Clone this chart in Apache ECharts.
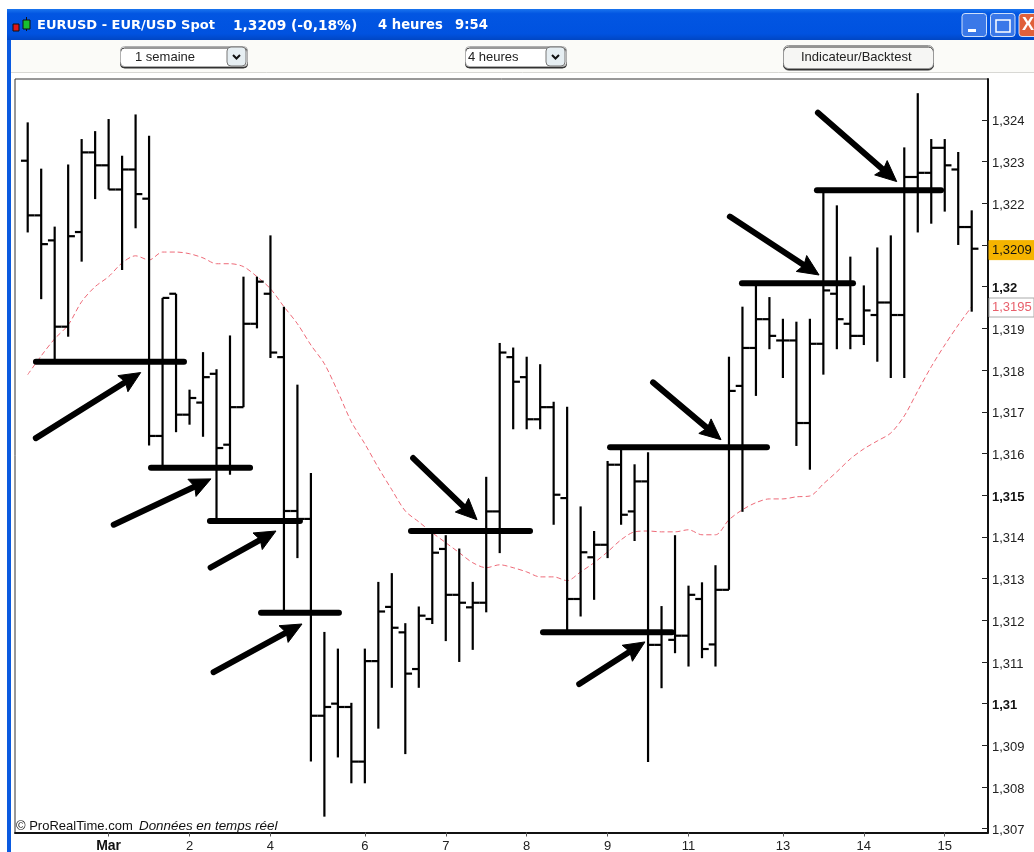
<!DOCTYPE html>
<html><head><meta charset="utf-8">
<style>html,body{margin:0;padding:0;background:#fff}#c{width:1034px;height:852px}</style>
<script src="https://cdn.jsdelivr.net/npm/echarts@6/dist/echarts.min.js"></script>
</head><body><div id="c"></div>
<script>
const opens=[1.32302,1.32171,1.32111,1.31904,1.32131,1.32322,1.32291,1.32233,1.32281,1.32211,1.31642,1.31983,1.31693,1.31722,1.31791,1.31621,1.31711,1.31911,1.31983,1.31831,1.31462,1.31443,1.30971,1.31000,1.30992,1.30861,1.31102,1.31232,1.31171,1.31083,1.31203,1.31371,1.31261,1.31231,1.31242,1.31461,1.31831,1.31783,1.31682,1.31711,1.31493,1.31251,1.31351,1.31381,1.31573,1.31461,1.31533,1.31141,1.31153,1.31163,1.31251,1.31142,1.31273,1.31762,1.31853,1.31922,1.31871,1.31871,1.31673,1.31863,1.31983,1.31911,1.31882,1.31932,1.31962,1.31932,1.32263,1.32273,1.32333,1.32281,1.32143];
const highs=[1.32394,1.32283,1.32144,1.32293,1.32354,1.32373,1.32402,1.32314,1.32413,1.32362,1.31973,1.31983,1.31753,1.31843,1.31802,1.31883,1.32024,1.32024,1.32123,1.31952,1.31765,1.31553,1.31172,1.31132,1.31002,1.31132,1.31292,1.31313,1.31193,1.31233,1.31413,1.31404,1.31372,1.31292,1.31544,1.31865,1.31854,1.31832,1.31814,1.31724,1.31712,1.31473,1.31414,1.31582,1.31613,1.31574,1.31603,1.31234,1.31404,1.31283,1.31291,1.31332,1.31832,1.31952,1.32007,1.31975,1.31923,1.31916,1.31923,1.32228,1.32195,1.32072,1.32003,1.32094,1.32123,1.32334,1.32464,1.32354,1.32354,1.32323,1.32183];
const lows=[1.32130,1.31970,1.31820,1.31880,1.32060,1.32210,1.32233,1.32040,1.32140,1.31619,1.31566,1.31651,1.31669,1.31640,1.31438,1.31549,1.31711,1.31900,1.31829,1.31218,1.31349,1.30861,1.30729,1.30871,1.30809,1.30809,1.30940,1.31038,1.30879,1.31038,1.31191,1.31150,1.31100,1.31129,1.31219,1.31361,1.31658,1.31658,1.31658,1.31429,1.31173,1.31209,1.31249,1.31349,1.31429,1.31390,1.30860,1.31037,1.31121,1.31089,1.31109,1.31089,1.31273,1.31460,1.31738,1.31850,1.31781,1.31618,1.31561,1.31789,1.31850,1.31850,1.31860,1.31820,1.31781,1.31781,1.32130,1.32151,1.32180,1.32100,1.31940];
const closes=[1.32171,1.32102,1.31904,1.32121,1.32322,1.32291,1.32233,1.32281,1.32222,1.31642,1.31973,1.31693,1.31733,1.31783,1.31613,1.31711,1.31911,1.32012,1.31842,1.31462,1.31443,1.30971,1.30992,1.30992,1.30861,1.31102,1.31221,1.31182,1.31072,1.31211,1.31362,1.31261,1.31242,1.31242,1.31461,1.31842,1.31772,1.31682,1.31711,1.31501,1.31251,1.31363,1.31381,1.31573,1.31453,1.31533,1.31141,1.31170,1.31163,1.31261,1.31131,1.31273,1.31750,1.31853,1.31922,1.31882,1.31871,1.31673,1.31863,1.31991,1.31922,1.31882,1.31943,1.31962,1.31932,1.32263,1.32273,1.32333,1.32291,1.32143,1.32091];
const movingAverage=[1.31789,1.31834,1.31875,1.31908,1.31964,1.32000,1.32024,1.32057,1.32074,1.32064,1.32083,1.32083,1.32079,1.32069,1.32055,1.32055,1.32048,1.32024,1.31995,1.31952,1.31911,1.31860,1.31815,1.31748,1.31676,1.31623,1.31566,1.31513,1.31462,1.31436,1.31410,1.31386,1.31362,1.31338,1.31326,1.31333,1.31326,1.31316,1.31304,1.31304,1.31295,1.31316,1.31338,1.31364,1.31393,1.31412,1.31414,1.31412,1.31412,1.31417,1.31405,1.31405,1.31441,1.31465,1.31482,1.31491,1.31491,1.31496,1.31498,1.31527,1.31556,1.31587,1.31611,1.31630,1.31649,1.31690,1.31750,1.31808,1.31860,1.31908,1.31952];
// horizontal levels: [from bar, to bar, price]
const levels=[[0.39,11.81,1.31820],[8.92,16.71,1.31566],[13.29,20.41,1.31438],[17.08,23.3,1.31218],[28.2,37.47,1.31414],[37.99,48,1.31171],[42.96,55.04,1.31615],[52.74,61.42,1.32008],[58.3,67.95,1.32231]];
// arrows: [tail bar, tail price, tip bar, tip price]
const arrows=[[0.415,1.31633,8.379,1.31794],[6.177,1.31426,13.59,1.31539],[13.37,1.31323,18.41,1.31414],[13.59,1.31072,20.34,1.31191],[28.42,1.31594,33.32,1.31441],[40.71,1.31043,45.77,1.31148],[46.2,1.31775,51.41,1.31633],[51.88,1.32172,58.68,1.32028],[58.43,1.32422,64.44,1.32252]];
const dayTicks=[6,12,18,25,31,37,43,49,56,62,68];
const dayLabels=['Mar','2','4','6','7','8','9','11','13','14','15'];
const priceTicks=[1.307,1.308,1.309,1.31,1.311,1.312,1.313,1.314,1.315,1.316,1.317,1.318,1.319,1.32,1.321,1.322,1.323,1.324];
const priceLabelled=priceTicks.filter(v=>v!==1.321);
const boldPrices=[1.31,1.315,1.32];
const lastPrice=1.3209, maValue=1.3195;
const FONT='"Liberation Sans",Arial,sans-serif';
const TITLE='"DejaVu Sans",sans-serif';

function barItem(params,api){
  const i=api.value(0),o=api.coord([i,api.value(1)]),h=api.coord([i,api.value(2)]),l=api.coord([i,api.value(3)]),c=api.coord([i,api.value(4)]);
  const w=api.size([1,0])[0]/2, st={stroke:'#000',lineWidth:2.2};
  return {type:'group',children:[
    {type:'line',shape:{x1:h[0],y1:h[1],x2:l[0],y2:l[1]},style:st},
    {type:'line',shape:{x1:o[0]-w,y1:o[1],x2:o[0],y2:o[1]},style:st},
    {type:'line',shape:{x1:c[0],y1:c[1],x2:c[0]+w,y2:c[1]},style:st}]};
}
function levelItem(params,api){
  const a=api.coord([api.value(0),api.value(2)]),b=api.coord([api.value(1),api.value(2)]);
  return {type:'line',shape:{x1:a[0]+3,y1:a[1],x2:b[0]-3,y2:b[1]},style:{stroke:'#000',lineWidth:6,lineCap:'round'}};
}
function arrowItem(params,api){
  const a=api.coord([api.value(0),api.value(1)]),b=api.coord([api.value(2),api.value(3)]);
  const dx=b[0]-a[0],dy=b[1]-a[1],n=Math.hypot(dx,dy),ux=dx/n,uy=dy/n,L=21,W=9.5;
  const bx=b[0]-ux*L,by=b[1]-uy*L;
  return {type:'group',children:[
    {type:'line',shape:{x1:a[0]+ux*3,y1:a[1]+uy*3,x2:bx+ux*5,y2:by+uy*5},style:{stroke:'#000',lineWidth:6,lineCap:'round'}},
    {type:'polygon',shape:{points:[[b[0],b[1]],[bx-uy*W,by+ux*W],[bx+ux*3,by+uy*3],[bx+uy*W,by-ux*W]]},style:{fill:'#000',stroke:'#000',lineWidth:1,lineJoin:'round'}}]};
}
function tagItem(params,api){
  const y=api.coord([0,api.value(0)])[1]+api.value(4), fill=api.value(1)==1;
  return {type:'group',children:[
    {type:'rect',shape:{x:989,y:y-9.5,width:45,height:19},style:{fill:fill?'#f5b400':'#fff',stroke:fill?'#f5b400':'#aaa',lineWidth:1}},
    {type:'text',style:{x:992,y:y,text:(+api.value(0)).toFixed(4).replace('.',','),fill:fill?'#111':'#e8606c',font:'13px '+FONT,verticalAlign:'middle'}}]};
}

const barData=opens.map((o,i)=>[i,o,highs[i],lows[i],closes[i]]);
const chrome=[
  {type:'rect',shape:{x:7,y:9,width:1027,height:31},style:{fill:new echarts.graphic.LinearGradient(0,0,0,1,[{offset:0,color:'#1a74ee'},{offset:.15,color:'#0256e2'},{offset:.8,color:'#0052e0'},{offset:1,color:'#0046c4'}])}},
  {type:'rect',shape:{x:7,y:40,width:4,height:812},style:{fill:'#0a5ae0'}},
  {type:'rect',shape:{x:11,y:40,width:1023,height:33},style:{fill:'#fbfbf8'}},
  {type:'line',shape:{x1:11,y1:72.5,x2:1034,y2:72.5},style:{stroke:'#d8d8d4',lineWidth:1}},
  {type:'rect',shape:{x:13,y:24,width:6,height:7},style:{fill:'#e01818',stroke:'#111',lineWidth:1}},
  {type:'line',shape:{x1:26.5,y1:17,x2:26.5,y2:31},style:{stroke:'#111',lineWidth:1}},
  {type:'rect',shape:{x:23,y:20,width:7,height:9},style:{fill:'#18c030',stroke:'#111',lineWidth:1}},
  {type:'text',style:{x:37,y:26,text:'EURUSD - EUR/USD Spot',fill:'#fff',font:'bold 13px '+TITLE,verticalAlign:'middle'}},
  {type:'text',style:{x:233,y:26,text:'1,3209 (-0,18%)',fill:'#fff',font:'bold 13.8px '+TITLE,verticalAlign:'middle'}},
  {type:'text',style:{x:378,y:26,text:'4 heures',fill:'#fff',font:'bold 13.2px '+TITLE,verticalAlign:'middle'}},
  {type:'text',style:{x:455,y:26,text:'9:54',fill:'#fff',font:'bold 13.2px '+TITLE,verticalAlign:'middle'}},
];
function winBtn(x,w,c){chrome.push({type:'rect',shape:{x:x,y:13.5,width:w,height:23,r:3},style:{fill:c,stroke:'#cfe0fa',lineWidth:1}});}
winBtn(962,24.5,'#3a78e8');winBtn(990.5,24.5,'#3a78e8');winBtn(1019,20,'#e0603a');
chrome.push({type:'rect',shape:{x:968,y:29,width:8,height:3},style:{fill:'#fff'}});
chrome.push({type:'rect',shape:{x:996,y:20,width:14,height:12},style:{fill:'none',stroke:'#fff',lineWidth:1.5}});
chrome.push({type:'text',style:{x:1022,y:25,text:'X',fill:'#fff',font:'bold 18px "Liberation Sans",sans-serif',verticalAlign:'middle'}});
function select(x,w,txt,tx){
  chrome.push({type:'rect',shape:{x:x+.5,y:46.5,width:w,height:20,r:4},style:{fill:'#fff',stroke:'#b0b0b0',lineWidth:1,shadowColor:'#333',shadowOffsetY:1.5,shadowBlur:0}});
  chrome.push({type:'rect',shape:{x:x+w-20,y:47,width:19,height:19,r:4},style:{fill:'#e6eef2',stroke:'#777',lineWidth:1}});
  chrome.push({type:'polyline',shape:{points:[[x+w-14,55],[x+w-10.5,58.5],[x+w-7,55]]},style:{stroke:'#111',lineWidth:2,fill:'none'}});
  chrome.push({type:'text',style:{x:tx,y:57,text:txt,fill:'#222',font:'13px "Liberation Sans",sans-serif',verticalAlign:'middle'}});
}
select(120,127,'1 semaine',135);select(465,101,'4 heures',468);
chrome.push({type:'rect',shape:{x:783.5,y:45.5,width:150,height:23,r:5},style:{fill:'#f6f6f4',stroke:'#999',lineWidth:1,shadowColor:'#333',shadowOffsetY:1.5,shadowBlur:0}});
chrome.push({type:'text',style:{x:801,y:57,text:'Indicateur/Backtest',fill:'#222',font:'13px "Liberation Sans",sans-serif',verticalAlign:'middle'}});
chrome.push({type:'text',style:{x:16,y:826,text:'© ProRealTime.com',fill:'#111',font:'13px "Liberation Sans",sans-serif',verticalAlign:'middle'}});
chrome.push({type:'text',style:{x:139,y:826,text:'Données en temps réel',fill:'#111',font:'italic 13.4px "Liberation Sans",sans-serif',verticalAlign:'middle'}});

const chart=echarts.init(document.getElementById('c'),null,{renderer:'canvas'});
chart.setOption({
  animation:false,backgroundColor:'#fff',
  graphic:{elements:chrome.map(e=>Object.assign({z:100},e,{silent:true}))},
  grid:{left:15,right:46,top:79,bottom:19.5,outerBoundsMode:'none',show:true,borderColor:'#333',borderWidth:1,backgroundColor:'#fff'},
  xAxis:{type:'value',min:-0.942,max:71.208,splitLine:{show:false},
    axisLine:{lineStyle:{color:'#111',width:2},onZero:false},
    axisTick:{customValues:dayTicks,length:4,lineStyle:{color:'#555'}},
    axisLabel:{customValues:dayTicks,margin:7,fontFamily:FONT,fontSize:13,color:'#222',showMinLabel:true,showMaxLabel:true,
      formatter:v=>{const k=dayTicks.indexOf(v),t=dayLabels[k];return t==='Mar'?'{b|Mar}':t;},rich:{b:{fontWeight:'bold',fontSize:14,color:'#111',fontFamily:FONT}}}},
  yAxis:{type:'value',position:'right',min:1.30691,max:1.32498,scale:true,splitLine:{show:false},
    axisLine:{show:true,onZero:false,lineStyle:{color:'#111',width:2}},
    axisTick:{show:true,customValues:priceTicks,inside:true,length:6,lineStyle:{color:'#222'}},
    axisLabel:{customValues:priceLabelled,margin:4,padding:[4,0,0,0],fontFamily:FONT,fontSize:13,color:'#222',
      formatter:v=>{const r=+v.toFixed(3),s=String(r).replace('.',',');return boldPrices.includes(r)?'{b|'+s+'}':s;},
      rich:{b:{fontWeight:'bold',fontSize:13,color:'#111',fontFamily:FONT}}}},
  series:[
    {type:'line',name:'MA',data:movingAverage.map((v,i)=>[i,v]),showSymbol:false,smooth:0.3,z:1,lineStyle:{color:'#ee6a78',width:1,type:[5,3]}},
    {type:'custom',name:'EURUSD',data:barData,renderItem:barItem,encode:{x:0,y:[1,2,3,4]},z:3,clip:false},
    {type:'custom',name:'levels',data:levels,renderItem:levelItem,encode:{x:[0,1],y:2},z:4,clip:false},
    {type:'custom',name:'arrows',data:arrows,renderItem:arrowItem,encode:{x:[0,2],y:[1,3]},z:5,clip:false},
    {type:'custom',name:'tags',data:[[lastPrice,1,0,0,1],[maValue,0,0,0,0]],renderItem:tagItem,encode:{y:0},z:6,clip:false}
  ]
});
</script></body></html>
